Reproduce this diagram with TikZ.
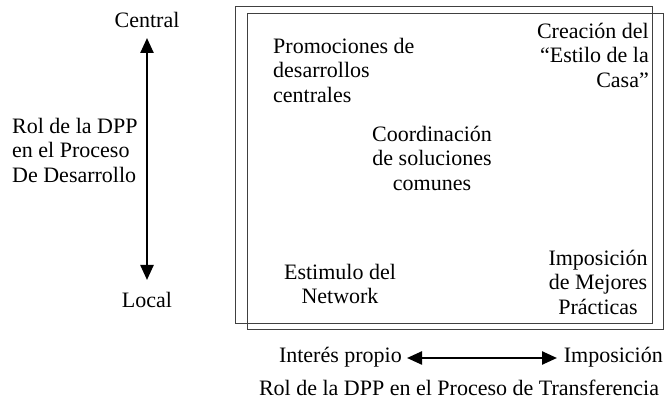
\documentclass[tikz,border=0pt]{standalone}
\usepackage{fontspec}
\setmainfont{Liberation Serif}
\usetikzlibrary{arrows.meta}
\begin{document}
\begin{tikzpicture}[x=1pt,y=-1pt,
  every node/.style={inner sep=0pt,font=\fontsize{22}{24.5}\selectfont},
  frame/.style={draw=black!75,line width=0.9pt},
  bigarrow/.style={line width=2.4pt,{Triangle[length=15pt,width=13pt]}-{Triangle[length=15pt,width=13pt]}}]
\useasboundingbox (0,0) rectangle (665,403);
\draw[frame] (235,6) rectangle (652,323);
\draw[frame] (247,13) rectangle (663,329);
\node (central) at (147,20) {Central};
\node (local) at (147,300) {Local};
\coordinate (vtop) at (147,38);
\coordinate (vbot) at (147,280);
\draw[bigarrow] (vtop) -- (vbot);
\node[anchor=west,align=left] (rolv) at (12,150) {Rol de la DPP\\en el Proceso\\De Desarrollo};
\node[anchor=west,align=left] (prom) at (273,70) {Promociones de\\desarrollos\\centrales};
\node[anchor=east,align=right] (crea) at (649,55) {Creación del\\“Estilo de la\\Casa”};
\node[align=center] (coord) at (432,158) {Coordinación\\de soluciones\\comunes};
\node[align=center] (estim) at (340,284) {Estimulo del\\Network};
\node[align=center] (impo) at (598,282) {Imposición\\de Mejores\\Prácticas};
\node[anchor=east] (interes) at (402,357) {Interés propio};
\node[anchor=east] (imph) at (663,357) {Imposición};
\coordinate (hleft) at (407,358);
\coordinate (hright) at (557,358);
\draw[bigarrow] (hleft) -- (hright);
\node (rolh) at (459,388) {Rol de la DPP en el Proceso de Transferencia};
\end{tikzpicture}
\end{document}
